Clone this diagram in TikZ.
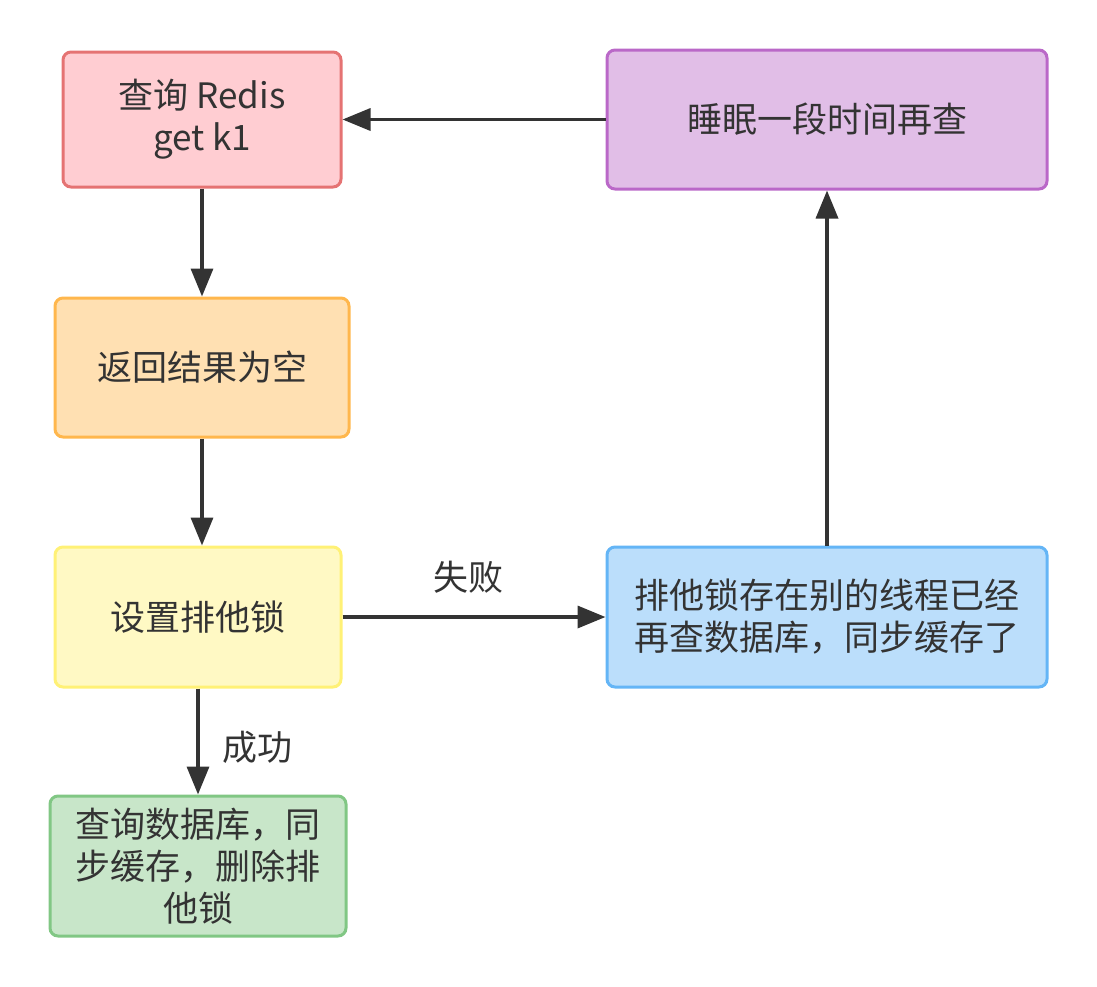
\documentclass[tikz,border=0pt]{standalone}
\usepackage{fontspec}
\setmainfont{Noto Sans CJK SC}
\usetikzlibrary{arrows.meta}
\definecolor{txt}{HTML}{333333}
\definecolor{redf}{HTML}{FFCDD2}\definecolor{redd}{HTML}{E57373}
\definecolor{orgf}{HTML}{FFE0B2}\definecolor{orgd}{HTML}{FFB74D}
\definecolor{yelf}{HTML}{FFF9C4}\definecolor{yeld}{HTML}{FFF176}
\definecolor{grnf}{HTML}{C8E6C9}\definecolor{grnd}{HTML}{81C784}
\definecolor{purf}{HTML}{E1BEE7}\definecolor{purd}{HTML}{BA68C8}
\definecolor{bluf}{HTML}{BBDEFB}\definecolor{blud}{HTML}{64B5F6}
\tikzset{
  box/.style={draw, line width=3pt, rounded corners=8pt, align=center, text=txt,
    font=\fontsize{35pt}{42pt}\selectfont, inner sep=0pt},
  conn/.style={draw=txt, line width=3.5pt, -{Triangle[length=28pt,width=22pt]}},
  lbl/.style={text=txt, font=\fontsize{35pt}{40pt}\selectfont, inner sep=0pt, anchor=center}
}
\begin{document}
\begin{tikzpicture}[x=1pt,y=-1pt]
\useasboundingbox (0,0) rectangle (1097,986);
\node[box, fill=redf, draw=redd, minimum width=278pt, minimum height=135pt] (redis) at (202,119.5) {查询 Redis\\get k1};
\node[box, fill=orgf, draw=orgd, minimum width=294pt, minimum height=139pt] (empty) at (202,367.5) {返回结果为空};
\node[box, fill=yelf, draw=yeld, minimum width=286pt, minimum height=140pt] (lock) at (198,617) {设置排他锁};
\node[box, fill=grnf, draw=grnd, minimum width=296pt, minimum height=140pt] (db) at (198,866) {查询数据库，同\\步缓存，删除排\\他锁};
\node[box, fill=purf, draw=purd, minimum width=440pt, minimum height=139pt] (sleep) at (827,119.5) {睡眠一段时间再查};
\node[box, fill=bluf, draw=blud, minimum width=440pt, minimum height=140pt] (other) at (827,617) {排他锁存在别的线程已经\\再查数据库，同步缓存了};
\draw[conn] (redis.south) -- (empty.south |- empty.north);
\draw[conn] (empty.south) -- (empty.south |- lock.north);
\draw[conn] (lock) -- (db) node[lbl, midway, xshift=59pt, yshift=-6pt] (ok) {成功};
\draw[conn] (lock) -- (other) node[lbl, midway, xshift=-6pt, yshift=40pt] (fail) {失败};
\draw[conn] (other) -- (sleep);
\draw[conn] (sleep) -- (redis);
\end{tikzpicture}
\end{document}
